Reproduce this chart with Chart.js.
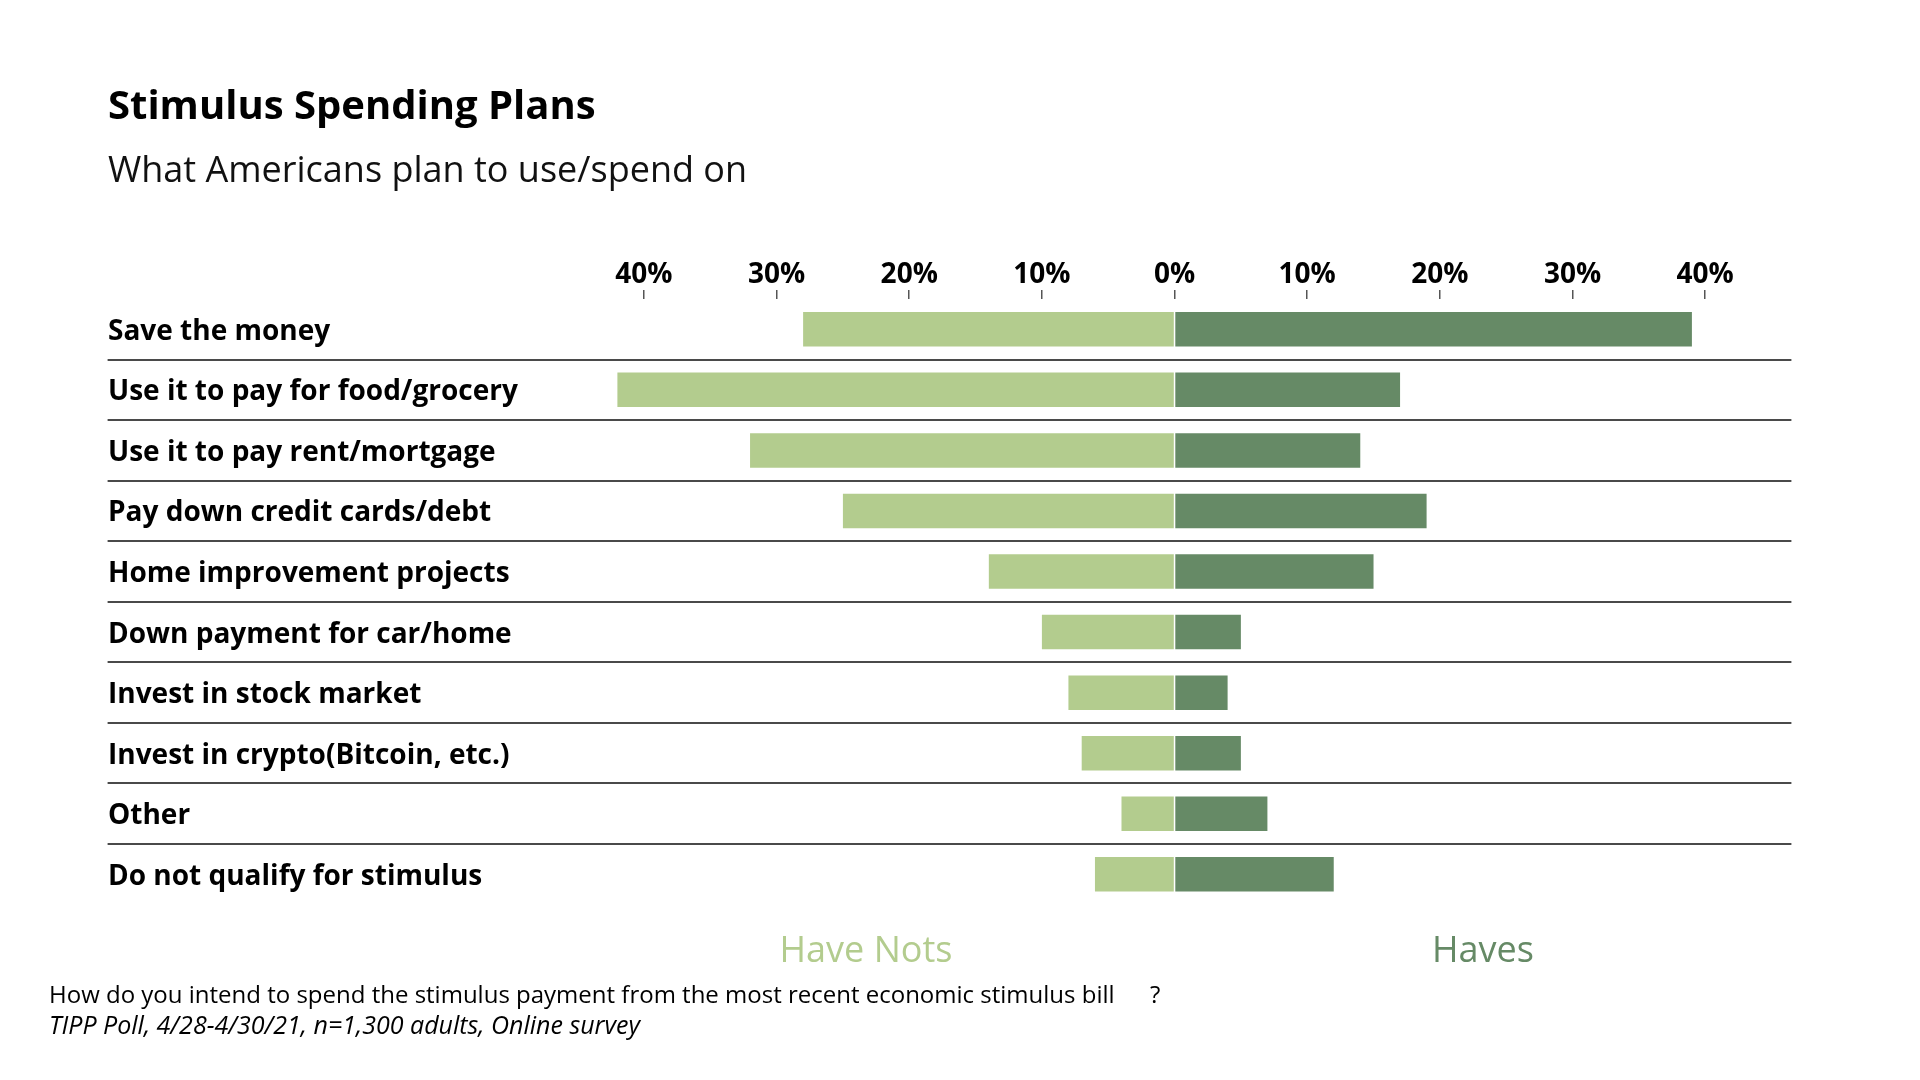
<!DOCTYPE html>
<html>
<head>
<meta charset="utf-8">
<script src="https://cdn.jsdelivr.net/npm/chart.js@4"></script>
<style>
  html, body { margin: 0; padding: 0; background: #ffffff; }
  #wrap { position: relative; width: 1920px; height: 1080px; overflow: hidden; font-family: "Open Sans", "Noto Sans", sans-serif; }
  #chart { position: absolute; left: 0; top: 0; }
  .t { position: absolute; white-space: nowrap; line-height: 1; }
  #title { left: 108px; top: 84px; font-size: 40px; font-weight: 700; color: #000; }
  #subtitle { left: 108px; top: 151px; font-size: 36px; font-weight: 400; color: #111; }
  #lgNots { left: 866px; top: 931px; font-size: 36px; color: #B3CC8E; transform: translateX(-50%); }
  #lgHaves { left: 1483px; top: 931px; font-size: 36px; color: #668A66; transform: translateX(-50%); }
  #q { left: 49px; top: 982px; font-size: 24px; color: #000; }
  #qm { left: 1150px; top: 982px; font-size: 24px; color: #000; }
  #src { left: 49px; top: 1012px; font-size: 25px; font-style: italic; color: #000; }
</style>
</head>
<body>
<div id="wrap">
  <canvas id="chart" width="1920" height="1080"></canvas>
  <div class="t" id="title">Stimulus Spending Plans</div>
  <div class="t" id="subtitle">What Americans plan to use/spend on</div>
  <div class="t" id="lgNots">Have Nots</div>
  <div class="t" id="lgHaves">Haves</div>
  <div class="t" id="q">How do you intend to spend the stimulus payment from the most recent economic stimulus bill</div>
  <div class="t" id="qm">?</div>
  <div class="t" id="src">TIPP Poll, 4/28-4/30/21, n=1,300 adults, Online survey</div>
</div>
<script>
const categories = [
  "Save the money",
  "Use it to pay for food/grocery",
  "Use it to pay rent/mortgage",
  "Pay down credit cards/debt",
  "Home improvement projects",
  "Down payment for car/home",
  "Invest in stock market",
  "Invest in crypto(Bitcoin, etc.)",
  "Other",
  "Do not qualify for stimulus"
];
const haveNots = [28, 42, 32, 25, 14, 10, 8, 7, 4, 6];
const haves = [39, 17, 14, 19, 15, 5, 4, 5, 7, 12];
const tickValues = [-40, -30, -20, -10, 0, 10, 20, 30, 40];
const seriesNames = ["Have Nots", "Haves"];

const LIGHT = "#B3CC8E";
const DARK = "#668A66";

new Chart(document.getElementById("chart"), {
  type: "bar",
  data: {
    labels: categories,
    datasets: [
      { label: seriesNames[0], data: haveNots.map(v => -v), backgroundColor: LIGHT, borderWidth: 0,
        barPercentage: 0.57, categoryPercentage: 1 },
      { label: seriesNames[1], data: haves, backgroundColor: DARK, borderWidth: 0,
        barPercentage: 0.57, categoryPercentage: 1 }
    ]
  },
  options: {
    indexAxis: "y",
    responsive: false,
    animation: false,
    devicePixelRatio: 1,
    layout: { padding: { left: 108, top: 219, right: 128.6, bottom: 175.4 } },
    plugins: { legend: { display: false }, tooltip: { enabled: false }, title: { display: false } },
    scales: {
      x: {
        position: "top",
        stacked: true,
        min: -45,
        max: 46.5,
        afterBuildTicks: (scale) => { scale.ticks = tickValues.map(v => ({ value: v })); },
        afterFit: (scale) => { scale.height = 80; },
        border: { display: false },
        grid: { drawOnChartArea: false, drawTicks: true, tickLength: 9, color: "#555", lineWidth: 1.5 },
        ticks: {
          padding: -1.5,
          color: "#000",
          font: { family: "Open Sans", size: 28, weight: "bold" },
          callback: (v) => Math.abs(v) + "%",
          maxRotation: 0
        }
      },
      y: {
        stacked: true,
        afterFit: (scale) => { scale.width = 469.6; },
        border: { display: false },
        grid: {
          offset: true,
          drawOnChartArea: true,
          drawTicks: true,
          tickLength: 470,
          lineWidth: 2,
          color: (ctx) => (ctx.type !== "tick" || ctx.index === 0) ? "rgba(0,0,0,0)" : "#4a4a4a"
        },
        ticks: {
          crossAlign: "far",
          padding: 0,
          labelOffset: 2.5,
          color: "#000",
          font: { family: "Open Sans", size: 28, weight: "bold" }
        }
      }
    }
  }
});
</script>
</body>
</html>
